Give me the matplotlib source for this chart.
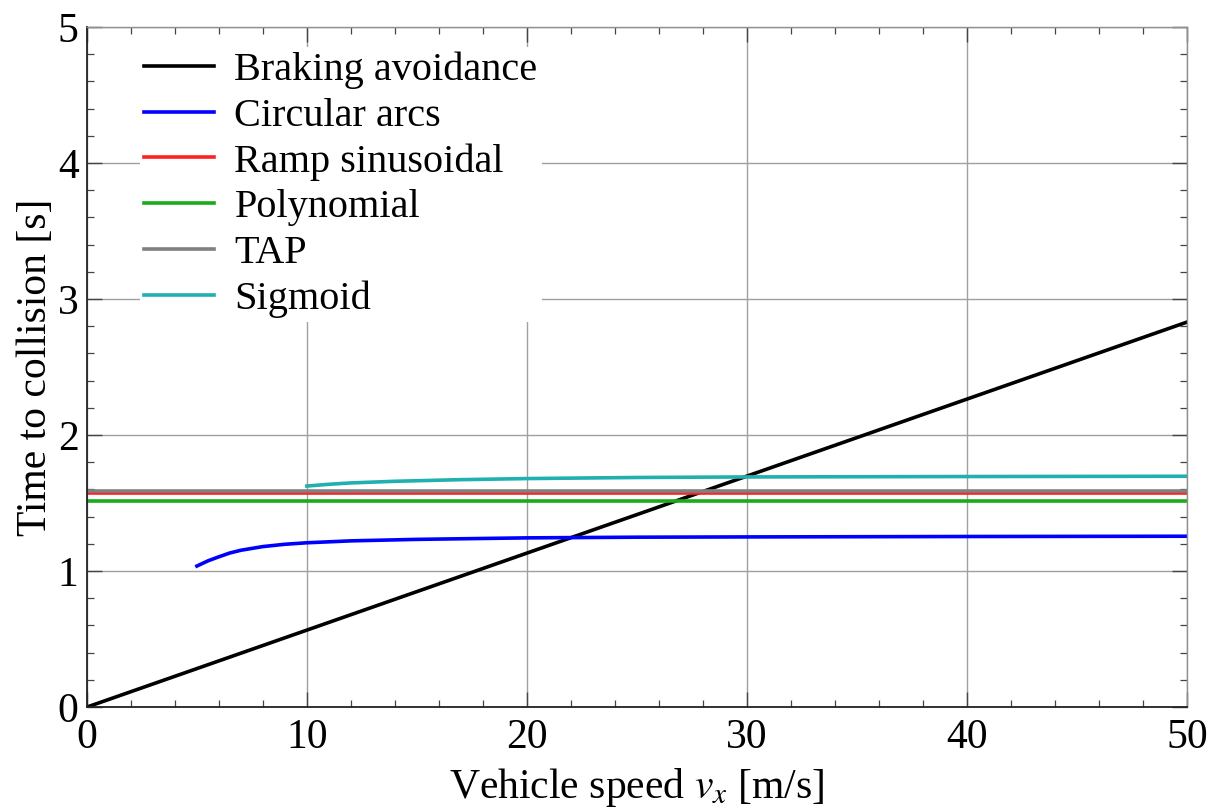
import numpy as np
import matplotlib
matplotlib.use("Agg")
import matplotlib.pyplot as plt
from matplotlib.ticker import MultipleLocator

plt.rcParams['font.family'] = ['Liberation Serif', 'DejaVu Serif']
plt.rcParams['mathtext.fontset'] = 'stix'

# data
speed_braking = [0, 50]
ttc_braking = [0.0, 2.83]

speed_arcs = [5, 5.5, 6, 6.5, 7, 8, 9, 10, 12, 15, 20, 25, 30, 40, 50]
ttc_arcs = [1.037, 1.075, 1.105, 1.133, 1.153, 1.180, 1.197, 1.208, 1.222,
            1.233, 1.244, 1.249, 1.251, 1.254, 1.256]

speed_flat = [0, 50]
ttc_ramp = [1.571, 1.571]
ttc_poly = [1.512, 1.512]
ttc_tap = [1.588, 1.588]

speed_sigmoid = [10, 11, 12, 14, 17, 20, 25, 30, 40, 50]
ttc_sigmoid = [1.625, 1.638, 1.648, 1.660, 1.672, 1.680, 1.688, 1.692,
               1.695, 1.697]

fig = plt.figure(figsize=(12.16, 8.09), dpi=100)
ax = fig.add_axes([0.0715, 0.126, 0.9045, 0.8406])

lw = 2.6
ax.plot(speed_braking, ttc_braking, color='black', lw=lw, label='Braking avoidance')
ax.plot(speed_arcs, ttc_arcs, color='#0000ff', lw=lw, label='Circular arcs')
ax.plot(speed_flat, ttc_ramp, color='#ff2020', lw=lw, label='Ramp sinusoidal')
ax.plot(speed_flat, ttc_poly, color='#1aaa1a', lw=lw, label='Polynomial')
ax.plot(speed_flat, ttc_tap, color='#808080', lw=lw, label='TAP')
ax.plot(speed_sigmoid, ttc_sigmoid, color='#20b0b0', lw=lw, label='Sigmoid')

ax.set_xlim(0, 50)
ax.set_ylim(0, 5)
ax.xaxis.set_major_locator(MultipleLocator(10))
ax.xaxis.set_minor_locator(MultipleLocator(2))
ax.yaxis.set_major_locator(MultipleLocator(1))
ax.yaxis.set_minor_locator(MultipleLocator(0.2))
ax.grid(True, which='major', color='#a0a0a0', lw=1.0)
ax.tick_params(which='both', direction='in', top=True, right=True,
               labelsize=30, colors='#444444', labelcolor='black')
ax.tick_params(which='major', length=11, width=1.0, pad=8)
ax.tick_params(which='minor', length=5, width=0.9)
ax.tick_params(axis='y', which='major', pad=6)

for side in ['left', 'bottom']:
    ax.spines[side].set_color('#222222')
    ax.spines[side].set_linewidth(1.3)
for side in ['top', 'right']:
    ax.spines[side].set_color('#909090')
    ax.spines[side].set_linewidth(1.0)

ax.set_xlabel(r'Vehicle speed $v_x$ [m/s]', fontsize=30, labelpad=7)
ax.set_ylabel('Time to collision [s]', fontsize=30, labelpad=2)

leg = ax.legend(loc='upper left', bbox_to_anchor=(0.048, 0.970), fontsize=29,
                frameon=True, fancybox=False, framealpha=1, edgecolor='none',
                facecolor='white', borderpad=0.1, borderaxespad=0,
                labelspacing=0.21, handlelength=1.75, handletextpad=0.5)

fig.savefig('out.png', dpi=100)
